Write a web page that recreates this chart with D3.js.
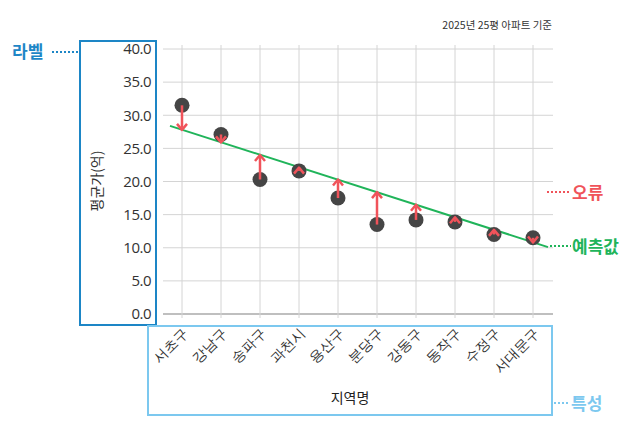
<!DOCTYPE html>
<html><head><meta charset="utf-8">
<script src="https://cdn.jsdelivr.net/npm/d3@7"></script>
<style>body{margin:0;background:#fff}svg{font-family:"Noto Sans CJK KR","Noto Sans",sans-serif}</style>
</head><body><svg id="c" width="640" height="424"></svg>
<script>
const categories=["서초구","강남구","송파구","과천시","용산구","분당구","강동구","동작구","수정구","서대문구"];
const actual=[31.5,27.1,20.3,21.6,17.5,13.5,14.2,13.9,12.0,11.5];
const predicted=[27.8,25.9,24.0,22.1,20.3,18.4,16.5,14.6,12.7,10.8];
const lineEnds=[28.4,10.1];
const yTicks=[0,5,10,15,20,25,30,35,40];
const svg=d3.select("#c");
const L=163,R=553,T=49,B=314;
const x=d3.scalePoint().domain(categories).range([182,533]);
const y=d3.scaleLinear().domain([0,40]).range([B,T]);
const red="#f0535a",green="#20b45a",dark="#454545";
svg.append("g").selectAll("line").data(yTicks).join("line")
 .attr("x1",L).attr("x2",R).attr("y1",d=>y(d)).attr("y2",d=>y(d))
 .attr("stroke",d=>d===0?"#aaa":"#d4d4d4").attr("stroke-width",d=>d===0?1.5:1);
svg.append("g").selectAll("line").data(categories).join("line")
 .attr("x1",d=>x(d)).attr("x2",d=>x(d)).attr("y1",T-4).attr("y2",B+4)
 .attr("stroke","#d4d4d4");
const ya=svg.append("g").attr("transform",`translate(${L},0)`).call(d3.axisLeft(y).tickValues(yTicks).tickFormat(d3.format(".1f")).tickSize(0).tickPadding(12));
ya.select(".domain").remove();
ya.selectAll("text").attr("font-size",15).attr("fill","#333").attr("font-family","Open Sans,sans-serif").attr("letter-spacing",-0.5);
const xa=svg.append("g").attr("transform",`translate(0,${B})`).call(d3.axisBottom(x).tickSize(0).tickPadding(0));
xa.select(".domain").remove();
xa.selectAll("text").attr("font-size",14).attr("fill","#333").attr("text-anchor","end")
 .attr("dy",0).attr("transform","translate(6,20) rotate(-45)");
svg.append("line").attr("x1",170).attr("x2",548).attr("y1",y(lineEnds[0])).attr("y2",y(lineEnds[1]))
 .attr("stroke",green).attr("stroke-width",2);
svg.append("g").selectAll("circle").data(categories).join("circle")
 .attr("cx",d=>x(d)).attr("cy",(d,i)=>y(actual[i])).attr("r",7.5).attr("fill",dark);
const ag=svg.append("g").selectAll("g").data(categories).join("g");
ag.each(function(d,i){
 const g=d3.select(this),cx=x(d),y0=y(actual[i]),y1=y(predicted[i]),dir=y1<y0?1:-1;
 g.append("line").attr("x1",cx).attr("x2",cx).attr("y1",y0).attr("y2",y1+dir*2).attr("stroke",red).attr("stroke-width",2.5);
 g.append("path").attr("d",`M${cx-5},${y1+dir*6}L${cx},${y1}L${cx+5},${y1+dir*6}`).attr("fill","none").attr("stroke",red).attr("stroke-width",2.5).attr("stroke-linejoin","round");
});
svg.append("text").attr("x",552).attr("y",29).attr("text-anchor","end").attr("font-size",10.5).attr("fill","#333").text("2025년 25평 아파트 기준");
svg.append("text").attr("x",102).attr("y",181).attr("transform","rotate(-90,102,181)").attr("text-anchor","middle").attr("font-size",14).attr("fill","#333").text("평균가(억)");
svg.append("rect").attr("x",80).attr("y",41).attr("width",76).attr("height",284).attr("fill","none").attr("stroke","#1d86c6").attr("stroke-width",2);
svg.append("text").attr("x",12).attr("y",58).attr("font-size",17).attr("font-weight","bold").attr("fill","#1d86c6").text("라벨");
svg.append("line").attr("x1",52).attr("x2",79).attr("y1",52).attr("y2",52).attr("stroke","#1d86c6").attr("stroke-width",2).attr("stroke-dasharray","2,2");
svg.append("rect").attr("x",148).attr("y",326).attr("width",404).attr("height",89).attr("fill","none").attr("stroke","#7cc8ef").attr("stroke-width",2);
svg.append("text").attr("x",350).attr("y",403).attr("text-anchor","middle").attr("font-size",14).attr("fill","#222").text("지역명");
svg.append("line").attr("x1",554).attr("x2",570).attr("y1",403).attr("y2",403).attr("stroke","#7cc8ef").attr("stroke-width",2).attr("stroke-dasharray","2,2");
svg.append("text").attr("x",571).attr("y",410).attr("font-size",17).attr("font-weight","bold").attr("fill","#7cc8ef").text("특성");
svg.append("line").attr("x1",547).attr("x2",571).attr("y1",192).attr("y2",192).attr("stroke",red).attr("stroke-width",2).attr("stroke-dasharray","2,2");
svg.append("text").attr("x",572).attr("y",199).attr("font-size",17).attr("font-weight","bold").attr("fill",red).text("오류");
svg.append("line").attr("x1",550).attr("x2",571).attr("y1",246).attr("y2",246).attr("stroke",green).attr("stroke-width",2).attr("stroke-dasharray","2,2");
svg.append("text").attr("x",572).attr("y",253).attr("font-size",17).attr("font-weight","bold").attr("fill",green).text("예측값");
</script></body></html>
